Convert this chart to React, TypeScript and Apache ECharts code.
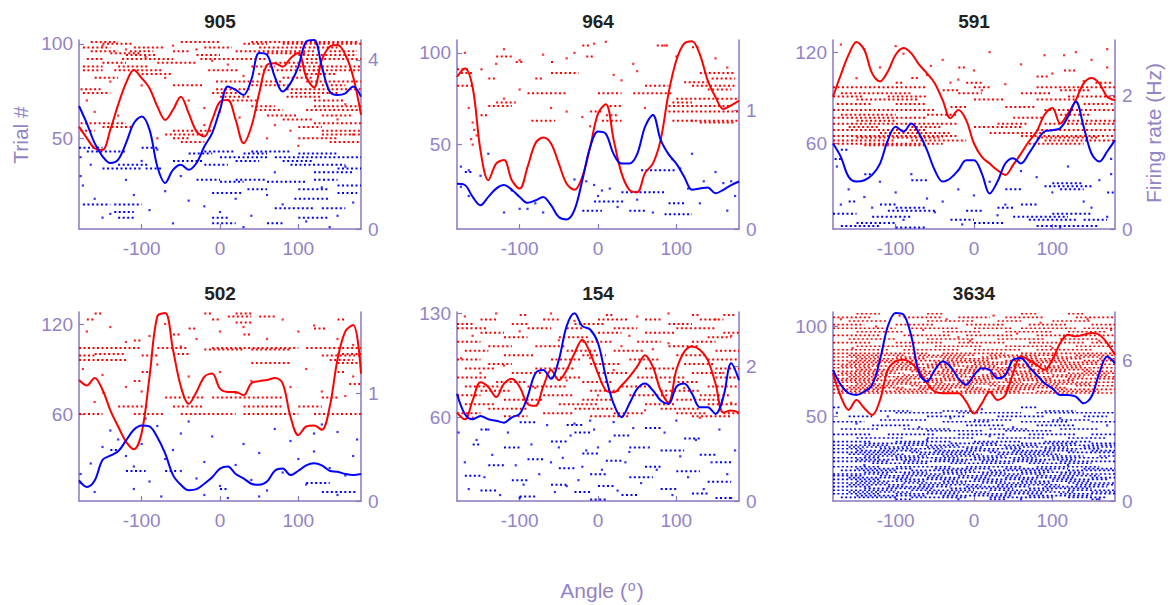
import React, { useEffect, useRef } from "react";
import * as echarts from "echarts";

// ---------- shared ----------
const ANGLES = [-180,-170,-160,-150,-140,-130,-120,-110,-100,-90,-80,-70,-60,-50,-40,-30,-20,-10,0,10,20,30,40,50,60,70,80,90,100,110,120,130,140,150,160,170,180];
const X_TICKS = [-100, 0, 100];
const TITLES = ["905", "964", "591", "502", "154", "3634"];
const Y_LIMS = [[2, 102], [4, 107], [4, 128], [2, 128], [4, 131], [3, 108]];
const Y_TICKS = [[50, 100], [50, 100], [60, 120], [60, 120], [60, 130], [50, 100]];
const R_MAX = [4.47, 1.59, 2.83, 1.75, 2.8, 8.07];
const R_TICKS = [[0, 4], [0, 1], [0, 2], [0, 1], [0, 2], [0, 6]];

// ---------- tuning curves (Hz), one value per ANGLES entry ----------
const RATE_905_RED = [2.42,2.15,1.91,1.87,2.35,2.94,3.45,3.76,3.57,3.33,2.90,2.58,2.82,3.13,2.74,2.31,2.19,2.58,3.01,3.05,2.58,2.03,2.42,3.21,3.88,3.92,3.84,4.04,4.16,3.60,3.35,4.00,4.31,4.35,4.12,3.60,2.70];
const RATE_905_BLUE = [2.91,2.50,2.03,1.72,1.56,1.64,2.03,2.50,2.66,2.35,1.48,1.09,1.40,1.52,1.40,1.56,1.95,2.27,2.82,3.37,3.29,3.17,3.53,4.16,4.12,3.60,3.25,3.45,3.84,4.43,4.47,3.84,3.25,3.17,3.21,3.37,3.13];
const RATE_964_RED = [1.28,1.35,1.19,0.66,0.41,0.55,0.58,0.41,0.34,0.52,0.72,0.77,0.72,0.55,0.38,0.33,0.44,0.69,0.97,1.05,0.75,0.47,0.33,0.31,0.47,0.55,0.75,1.14,1.42,1.56,1.58,1.47,1.25,1.11,1.01,1.04,1.08];
const RATE_964_BLUE = [0.38,0.37,0.27,0.20,0.27,0.34,0.37,0.33,0.27,0.22,0.24,0.27,0.20,0.10,0.08,0.16,0.41,0.69,0.82,0.80,0.63,0.55,0.55,0.63,0.86,0.96,0.75,0.63,0.55,0.44,0.33,0.34,0.35,0.30,0.33,0.37,0.40];
const RATE_591_RED = [1.98,2.31,2.61,2.80,2.68,2.33,2.21,2.36,2.61,2.71,2.63,2.46,2.33,2.18,1.93,1.66,1.78,1.63,1.28,1.08,0.98,0.88,0.81,0.96,1.13,1.31,1.46,1.71,1.81,1.58,1.73,1.93,2.18,2.26,2.18,1.98,1.93];
const RATE_591_BLUE = [1.28,1.08,0.78,0.71,0.73,0.81,0.98,1.33,1.53,1.46,1.58,1.43,1.18,0.88,0.71,0.76,0.88,1.03,1.03,0.83,0.53,0.71,0.98,1.06,0.98,1.13,1.31,1.46,1.48,1.51,1.68,1.91,1.53,1.13,1.01,1.16,1.33];
const RATE_502_RED = [1.12,1.07,1.14,1.03,0.84,0.69,0.55,0.48,0.63,1.15,1.71,1.74,1.40,1.06,0.90,1.01,1.15,1.18,1.04,1.01,1.01,0.98,1.09,1.11,1.12,1.14,1.09,0.78,0.61,0.69,0.70,0.66,0.87,1.31,1.57,1.63,1.18];
const RATE_502_BLUE = [0.19,0.13,0.19,0.38,0.42,0.46,0.56,0.66,0.70,0.69,0.59,0.44,0.24,0.15,0.10,0.11,0.16,0.22,0.30,0.32,0.25,0.21,0.16,0.15,0.18,0.28,0.30,0.24,0.28,0.33,0.35,0.33,0.28,0.27,0.25,0.24,0.25];
const RATE_154_RED = [1.31,1.21,1.49,1.76,1.69,1.54,1.74,1.81,1.69,1.44,1.41,1.69,1.94,1.79,1.94,2.19,2.39,2.19,1.89,1.64,1.61,1.71,1.84,1.99,2.16,1.99,1.64,1.46,1.94,2.21,2.29,2.24,2.09,1.74,1.31,1.34,1.31];
const RATE_154_BLUE = [1.59,1.29,1.21,1.26,1.21,1.19,1.16,1.24,1.29,1.54,1.89,1.94,1.81,2.09,2.59,2.78,2.59,2.54,2.34,1.84,1.44,1.24,1.44,1.66,1.74,1.64,1.49,1.44,1.69,1.74,1.59,1.39,1.39,1.29,1.54,2.04,1.79];
const RATE_3634_RED = [5.46,4.46,3.89,4.31,3.96,3.67,4.31,5.60,5.96,6.03,5.88,5.53,5.03,4.67,4.60,4.60,4.60,4.24,3.74,4.17,4.67,4.31,4.53,5.46,6.17,6.03,5.81,5.60,6.03,6.74,7.10,7.03,7.10,7.17,7.10,6.74,6.24];
const RATE_3634_BLUE = [5.60,4.96,4.60,4.53,4.67,4.96,6.03,7.46,8.03,7.96,7.03,5.46,5.10,5.60,5.96,5.74,5.24,4.96,5.38,5.67,5.60,5.24,5.38,6.03,6.10,5.74,5.38,5.03,4.81,4.53,4.53,4.46,4.17,4.46,5.46,6.17,5.88];

// ---------- rasters: runs of spikes [trial, fromAngle, toAngle] and single spikes [angle, trial] ----------
const RUNS_905_RED = [[101,-165,-130],[101,-50,0],[101,40,175],[100,-150,-110],[100,30,60],[100,80,180],[98,-175,-140],[98,-110,-70],[98,-20,15],[98,50,150],[96,-165,-130],[96,-115,-85],[96,-60,-40],[96,20,120],[96,140,175],[95,-140,-100],[95,60,110],[94,-120,-80],[94,-30,0],[94,100,175],[92,-170,-150],[92,-125,-60],[92,-25,60],[92,110,180],[90,-150,-120],[90,-80,-30],[90,70,130],[88,-175,-150],[88,-130,-90],[88,40,70],[88,90,180],[86,-175,-150],[86,-135,-75],[86,-15,25],[86,55,180],[84,-100,-60],[84,110,150],[82,-160,-130],[82,80,120],[80,-5,80],[80,110,180],[78,-60,-20],[78,40,90],[78,130,160],[76,-178,-150],[76,-5,40],[76,85,180],[74,-175,-140],[74,-10,25],[74,90,150],[72,0,40],[72,85,130],[70,10,50],[70,120,160],[67,40,70],[67,120,180],[65,45,80],[65,110,180],[62,60,100],[62,130,170],[60,80,120],[58,-178,-120],[58,120,180],[56,-150,-110],[56,100,130],[54,-178,-160],[54,-60,-10],[54,130,180],[52,-70,-20],[52,130,180],[50,-60,-40],[50,100,150],[48,-50,-20],[48,140,180]];
const DOTS_905_RED = [[-150,99],[-120,97],[-95,93],[-60,99],[-30,97],[-10,91],[10,89],[30,83],[50,84],[-140,80],[-100,78],[-70,82],[-40,70],[-20,66],[0,64],[25,61],[70,57],[90,54],[-130,62],[-160,64],[150,60],[160,68],[100,46],[-80,50],[-20,57],[60,50],[170,52],[140,74],[-170,70],[120,86]];
const RUNS_905_BLUE = [[45,-180,-150],[45,-100,-80],[43,-170,-120],[43,-20,20],[43,40,90],[42,-40,-10],[42,30,60],[42,100,150],[40,0,60],[40,70,180],[38,-60,-20],[38,20,50],[38,80,120],[36,-130,-90],[36,-20,10],[36,90,160],[34,-150,-100],[34,-95,-75],[34,150,180],[32,120,170],[28,-30,0],[28,20,60],[28,120,150],[27,0,30],[27,60,110],[25,150,180],[23,35,60],[23,100,140],[21,-10,30],[21,150,175],[18,95,140],[15,-175,-140],[15,-135,-100],[13,70,120],[13,130,160],[11,-135,-110],[8,-130,-110],[8,-10,10],[8,100,140],[5,-10,20],[5,60,80]];
const DOTS_905_BLUE = [[-178,40],[-178,30],[-175,25],[-160,18],[-140,10],[-120,28],[-110,20],[-90,12],[-70,22],[-60,5],[-40,17],[-20,14],[0,11],[20,18],[40,9],[60,20],[80,15],[110,6],[130,24],[150,9],[170,16],[-165,36],[-100,38],[-50,30],[70,32],[160,35],[-150,8],[30,3],[140,3],[-80,44]];

const RUNS_964_RED = [[104,-20,-10],[104,75,90],[103,120,130],[98,-130,-110],[98,-15,-5],[95,-105,-95],[95,-60,-55],[91,-180,-165],[91,-150,-145],[89,-175,-160],[89,-60,-25],[89,130,175],[86,-140,-130],[86,-80,-70],[86,145,175],[84,110,140],[82,-180,-160],[82,60,90],[82,120,175],[80,140,170],[78,-90,-40],[78,0,30],[78,45,95],[75,100,180],[73,-130,-105],[73,95,120],[71,-140,-110],[71,15,30],[71,90,170],[68,-10,5],[68,90,180],[66,-150,-140],[66,10,25],[63,-85,-55],[63,5,30],[63,95,180],[62,130,175]];
const DOTS_964_RED = [[-170,100],[-120,102],[-100,96],[-70,99],[-40,97],[-30,100],[-5,105],[10,106],[45,94],[85,104],[100,98],[150,97],[165,92],[-165,70],[-160,62],[-155,55],[-160,50],[-120,75],[-60,70],[-40,68],[-20,65],[-10,60],[20,88],[60,70],[70,66],[120,63],[-100,80],[-130,94],[30,85],[50,90],[-158,58],[-162,53]];
const RUNS_964_BLUE = [[36,55,100],[35,-170,-160],[24,30,85],[19,-5,35],[18,90,110],[14,-20,5],[14,40,60],[12,85,120]];
const DOTS_964_BLUE = [[-175,38],[-165,36],[-150,33],[-140,45],[-175,27],[-165,22],[-110,25],[-90,15],[-80,18],[-70,13],[-30,31],[-15,30],[-5,28],[5,25],[0,22],[15,26],[25,16],[50,20],[70,13],[95,42],[105,37],[115,26],[135,30],[150,35],[160,29],[170,30],[175,22],[165,14],[130,18],[120,45],[-120,13],[-100,15]];

const RUNS_591_RED = [[110,-20,-10],[108,115,130],[104,80,95],[103,-80,-70],[100,-100,-90],[100,-10,10],[100,155,175],[97,-180,-60],[97,0,20],[97,80,180],[95,-40,-20],[95,110,150],[93,-170,-80],[93,-20,10],[93,60,100],[91,-180,-140],[91,-110,-60],[91,120,180],[89,-150,-70],[89,0,40],[89,80,130],[86,-175,-130],[86,-100,-60],[86,140,180],[84,-30,-10],[84,40,80],[82,-180,-50],[82,90,180],[79,-170,-100],[79,-60,-20],[79,110,150],[77,-180,-60],[77,50,90],[75,-150,-100],[75,120,180],[73,-180,-20],[73,30,70],[73,90,180],[71,-160,-120],[71,-80,-40],[71,0,60],[69,-180,-60],[69,80,180],[67,-120,-30],[67,20,90],[65,-180,-20],[65,60,180],[64,-150,-40],[64,80,160],[62,-180,-100],[62,-80,-10],[62,90,180],[60,-180,-40],[60,70,140],[59,-140,-60]];
const DOTS_591_RED = [[-170,125],[-140,122],[-120,110],[-90,119],[-60,105],[-40,115],[-20,102],[0,108],[20,120],[40,99],[60,112],[90,118],[100,106],[130,120],[150,115],[170,110],[-150,103],[-30,100],[10,95],[140,101],[-100,124],[170,122],[115,118],[-55,111]];
const RUNS_591_BLUE = [[56,-170,-160],[50,-178,-170],[40,-140,-130],[36,-80,-60],[34,100,140],[32,90,150],[30,40,60],[30,110,140],[28,170,180],[22,-160,-150],[20,-120,-100],[20,60,80],[18,-100,-60],[18,30,50],[16,-110,-50],[16,-10,10],[14,-180,-150],[14,100,150],[12,-130,-80],[12,50,120],[10,-30,0],[10,70,130],[10,140,170],[8,-150,-100],[8,0,40],[6,-170,-120],[6,80,160],[5,-100,-60]];
const DOTS_591_BLUE = [[-175,45],[-160,30],[-140,25],[-120,35],[-100,28],[-80,40],[-60,24],[-40,22],[-20,30],[0,26],[20,35],[40,20],[60,42],[80,38],[100,28],[120,45],[140,22],[160,36],[175,40],[-170,20],[-130,18],[-50,15],[30,13],[150,18],[170,12],[-90,10],[-15,7],[110,5],[175,50]];

const RUNS_502_RED = [[127,-160,-150],[127,-20,-10],[127,20,40],[125,10,40],[125,50,70],[123,-170,-160],[123,-10,0],[123,150,160],[121,20,40],[117,-40,-30],[117,120,135],[113,-60,-50],[113,30,40],[109,-110,-100],[104,-180,-100],[104,-80,-40],[104,-10,100],[104,110,180],[103,-20,30],[103,40,90],[100,-160,-120],[100,-60,-40],[100,150,180],[99,-180,-160],[99,-100,-80],[99,130,180],[96,-180,-120],[96,140,170],[94,40,90],[94,150,180],[88,-100,-90],[88,150,160],[82,-110,-100],[80,165,180],[74,-150,-145],[71,-70,-20],[71,-10,80],[71,130,150],[65,-130,-90],[65,-60,-20],[65,30,80],[65,100,130],[60,-180,-150],[60,-110,-70],[60,-50,20],[60,30,100],[60,120,180]];
const DOTS_502_RED = [[-170,115],[-140,118],[-120,108],[-90,112],[-70,120],[-50,105],[-30,110],[0,115],[30,118],[60,110],[80,123],[100,115],[120,119],[150,110],[170,106],[-175,90],[-150,86],[-120,78],[-80,93],[-40,85],[0,88],[40,82],[90,78],[130,75],[170,85],[160,72],[-160,68],[-100,75],[20,74],[110,90]];
const RUNS_502_BLUE = [[22,-120,-95],[22,-70,-55],[10,0,10],[8,130,175],[36,-140,-130],[14,110,140]];
const DOTS_502_BLUE = [[-178,20],[-178,14],[-165,27],[-150,38],[-140,49],[-130,43],[-120,32],[-110,25],[-100,40],[-95,57],[-90,15],[-80,52],[-75,5],[-70,30],[-60,36],[-50,22],[-40,55],[-30,17],[-20,28],[-10,45],[0,12],[10,4],[20,26],[30,40],[40,16],[50,34],[60,9],[70,50],[80,21],[90,42],[100,30],[110,13],[120,35],[130,53],[140,24],[150,48],[160,19],[170,32],[175,43],[-160,8],[-110,10],[-20,6],[50,5],[150,6],[-50,47],[120,47]];

const RUNS_154_RED = [[129,-100,-90],[129,10,20],[129,120,130],[129,160,175],[126,-150,-130],[126,-70,-50],[126,0,40],[126,60,80],[126,130,160],[123,-180,-160],[123,-110,-90],[123,-30,10],[123,90,120],[120,-180,-140],[120,-90,-60],[120,-40,-20],[120,20,50],[120,100,150],[117,-150,-120],[117,0,30],[117,60,100],[117,160,180],[114,-120,-90],[114,-50,-10],[114,140,170],[111,-180,-150],[111,-20,20],[111,50,80],[111,120,150],[108,-140,-110],[108,-80,-40],[108,90,130],[105,-170,-140],[105,-40,0],[105,20,60],[105,150,180],[102,-120,-80],[102,-20,10],[102,100,140],[99,-180,-150],[99,-60,-20],[99,40,80],[99,140,180],[96,-140,-110],[96,-10,30],[96,110,150],[93,-170,-130],[93,-80,-30],[93,60,100],[93,150,180],[90,-110,-70],[90,0,40],[90,120,160],[87,-180,-140],[87,-60,-20],[87,50,110],[87,150,180],[84,-130,-90],[84,-20,20],[84,90,130],[81,-170,-120],[81,-90,-40],[81,30,70],[81,140,180],[78,-150,-110],[78,-10,30],[78,80,130],[75,-180,-150],[75,-70,-30],[75,40,90],[75,130,170],[72,-120,-70],[72,-20,20],[72,100,160],[69,-170,-130],[69,-50,0],[69,60,100],[69,140,180],[66,-140,-90],[66,-30,20],[66,80,130],[63,-180,-150],[63,-70,-30],[63,20,60],[63,100,140],[63,160,180],[61,-120,-90],[61,-10,40],[61,120,170]];
const DOTS_154_RED = [[-170,128],[-130,130],[-60,130],[-30,125],[50,128],[90,130],[150,126],[-175,100],[-160,115],[-100,118],[-50,112],[30,108],[70,106],[170,115],[-150,90],[-40,85],[20,92],[110,80],[-90,70],[0,75],[60,65],[170,70],[-160,60],[130,60],[-10,100],[90,110],[-120,95],[40,115],[160,90],[-80,80]];
const RUNS_154_BLUE = [[57,-100,-80],[55,-40,-20],[53,60,80],[52,-150,-140],[50,-30,-10],[48,20,40],[46,110,130],[44,-60,-40],[42,-160,-150],[40,-120,-100],[40,40,60],[38,80,110],[36,-20,0],[35,130,150],[32,-90,-70],[31,10,30],[30,150,170],[28,-140,-120],[27,60,80],[26,-50,-30],[24,100,130],[22,-10,10],[21,-170,-150],[20,40,70],[18,-110,-90],[17,140,170],[15,-60,-40],[14,0,20],[12,80,100],[11,-150,-130],[10,-30,-10],[9,120,140],[8,30,50],[7,-100,-80],[6,150,170],[5,-10,10]];
const DOTS_154_BLUE = [[-178,50],[-170,30],[-165,12],[-155,45],[-145,20],[-135,35],[-125,8],[-115,50],[-105,28],[-95,15],[-85,42],[-75,22],[-65,55],[-55,10],[-45,33],[-35,48],[-25,18],[-15,38],[-5,52],[5,25],[15,44],[25,11],[35,30],[45,53],[55,16],[65,40],[75,25],[85,50],[95,8],[105,34],[115,20],[125,45],[135,12],[145,30],[155,52],[165,22],[175,38],[-60,30],[-30,56],[-20,27],[-40,14],[-50,40],[170,6],[-100,6],[0,40],[40,37],[-140,52],[100,58],[-10,58],[20,57]];

const RUNS_3634_RED = [[107,-150,-120],[107,-60,-40],[107,60,80],[107,120,140],[105,-180,-130],[105,-90,-40],[105,-20,20],[105,40,90],[105,130,180],[103,-160,-110],[103,-60,0],[103,30,60],[103,100,150],[101,-180,-140],[101,-100,-50],[101,-10,40],[101,70,120],[101,150,180],[99,-180,-100],[99,-80,-20],[99,0,50],[99,60,130],[99,140,180],[97,-150,-90],[97,-40,10],[97,40,100],[97,120,170],[95,-180,-120],[95,-90,-30],[95,-10,50],[95,80,180],[93,-160,-100],[93,-60,0],[93,30,90],[93,110,160],[91,-180,-130],[91,-100,-40],[91,-20,40],[91,70,140],[91,150,180],[89,-150,-80],[89,-50,10],[89,40,100],[89,130,180],[87,-180,-110],[87,-90,-20],[87,0,60],[87,80,150],[85,-180,-60],[85,-40,40],[85,60,180],[84,-160,-90],[84,-70,0],[84,20,110],[84,130,180],[83,-180,-120],[83,-100,-10],[83,10,80],[83,100,170],[82,-150,-60],[82,-40,30],[82,50,140],[82,160,180],[81,-180,-100],[81,-80,20],[81,40,120],[81,140,180],[80,-160,-70],[80,-50,50],[80,70,160],[79,-180,-120],[79,-100,-20],[79,0,90],[79,110,180],[78,-170,-80],[78,-60,30],[78,50,140],[77,-180,-130],[77,-110,-30],[77,-10,70],[77,90,180],[76,-150,-60],[76,-40,50],[76,70,150],[75,-180,-100],[75,-80,10],[75,30,120],[75,140,180],[74,-170,-90],[74,-70,0],[74,20,100],[74,120,180],[73,-180,-110],[73,-90,-10],[73,10,80],[73,100,170],[72,-160,-60],[72,-40,40],[72,60,140],[72,160,180],[71,-180,-120],[71,-100,-20],[71,0,100],[71,120,180],[70,-170,-80],[70,-60,20],[70,40,130],[69,-180,-130],[69,-110,-40],[69,-20,60],[69,80,180],[68,-150,-70],[68,-50,30],[68,50,150],[67,-180,-100],[67,-80,0],[67,20,110],[67,130,180],[66,-160,-90],[66,-70,10],[66,30,120],[65,-180,-120],[65,-100,-30],[65,-10,80],[65,100,180],[64,-170,-60],[64,-40,60],[64,80,160],[63,-180,180]];
const DOTS_3634_RED = [[-170,104],[-125,100],[-95,106],[-65,98],[-35,104],[-5,92],[25,106],[55,96],[85,102],[115,94],[145,104],[175,98],[-155,88],[-20,94],[100,88],[160,92]];
const RUNS_3634_BLUE = [[55,-180,-170],[55,60,80],[53,-120,-80],[53,-40,0],[53,90,130],[52,-100,-40],[52,-20,60],[52,80,180],[50,-160,-130],[50,-60,-10],[50,30,90],[50,140,170],[48,-120,-60],[48,0,50],[48,100,150],[47,-180,-140],[47,-40,20],[47,60,120],[47,150,180],[45,-130,-80],[45,-10,40],[45,80,130],[43,-170,-120],[43,-90,-30],[43,20,70],[43,110,160],[42,-60,10],[42,40,100],[40,-180,-130],[40,-110,-50],[40,-20,40],[40,70,130],[40,150,180],[38,-150,-90],[38,-60,0],[38,30,90],[38,120,170],[36,-180,-130],[36,-100,-30],[36,0,60],[36,90,150],[35,-140,-60],[35,-30,30],[35,60,130],[35,150,180],[34,-180,-110],[34,-90,-20],[34,10,80],[34,100,180],[33,-160,-80],[33,-60,10],[33,40,120],[33,140,180],[32,-180,-140],[32,-120,-40],[32,-10,60],[32,90,160],[31,-150,-70],[31,-50,30],[31,50,130],[31,150,180],[30,-180,-100],[30,-80,0],[30,20,100],[30,120,180],[29,-160,-90],[29,-70,10],[29,30,110],[28,-140,-60],[28,-40,40],[28,60,140],[28,160,180],[27,-180,-120],[27,-100,-20],[27,0,80],[27,100,170],[26,-150,-70],[26,-50,30],[26,50,130],[25,-180,-110],[25,-90,-10],[25,10,90],[25,110,180],[24,-130,-60],[24,-30,50],[24,70,150],[22,-180,-120],[22,-100,-30],[22,-10,60],[22,80,160],[21,-150,-80],[21,-50,20],[21,40,120],[21,140,180],[20,-170,-100],[20,-80,0],[20,20,100],[20,120,180],[19,-140,-60],[19,-40,40],[19,60,140],[18,-180,-110],[18,-90,-10],[18,10,90],[18,110,180],[17,-180,-140],[17,-120,-40],[17,-20,60],[17,80,160],[16,-160,-80],[16,-60,20],[16,40,130],[16,150,180],[15,-180,-120],[15,-100,-20],[15,0,80],[15,100,170],[14,-150,-60],[14,-40,40],[14,60,150],[13,-180,-110],[13,-90,-10],[13,10,100],[13,120,180],[12,-160,-90],[12,-70,10],[12,30,110],[12,130,180],[11,-180,-130],[11,-110,-30],[11,-10,70],[11,90,170],[10,-140,-50],[10,-30,50],[10,70,150],[9,-180,-100],[9,-80,0],[9,20,100],[9,120,180],[8,-160,-80],[8,-60,20],[8,40,130],[8,150,180],[7,-180,-120],[7,-100,-20],[7,0,90],[7,110,180],[6,-150,-60],[6,-40,50],[6,70,150],[5,-170,-100],[5,-80,-10],[5,20,100],[5,120,170],[4,-100,-80],[4,20,40],[4,150,160]];
const DOTS_3634_BLUE = [[-175,52],[-150,46],[-110,50],[-70,44],[-30,49],[10,54],[50,44],[110,49],[170,45],[-140,23],[-60,37],[20,39],[120,23],[160,4],[-20,4],[60,4]];

const PANEL_DATA = [
  { red: RATE_905_RED, blue: RATE_905_BLUE, runsR: RUNS_905_RED, dotsR: DOTS_905_RED, runsB: RUNS_905_BLUE, dotsB: DOTS_905_BLUE },
  { red: RATE_964_RED, blue: RATE_964_BLUE, runsR: RUNS_964_RED, dotsR: DOTS_964_RED, runsB: RUNS_964_BLUE, dotsB: DOTS_964_BLUE },
  { red: RATE_591_RED, blue: RATE_591_BLUE, runsR: RUNS_591_RED, dotsR: DOTS_591_RED, runsB: RUNS_591_BLUE, dotsB: DOTS_591_BLUE },
  { red: RATE_502_RED, blue: RATE_502_BLUE, runsR: RUNS_502_RED, dotsR: DOTS_502_RED, runsB: RUNS_502_BLUE, dotsB: DOTS_502_BLUE },
  { red: RATE_154_RED, blue: RATE_154_BLUE, runsR: RUNS_154_RED, dotsR: DOTS_154_RED, runsB: RUNS_154_BLUE, dotsB: DOTS_154_BLUE },
  { red: RATE_3634_RED, blue: RATE_3634_BLUE, runsR: RUNS_3634_RED, dotsR: DOTS_3634_RED, runsB: RUNS_3634_BLUE, dotsB: DOTS_3634_BLUE },
];

// ---------- styling / layout ----------
const FONT = "'Liberation Sans', Arial, Helvetica, sans-serif";
const AXIS_COLOR = "#8a78c0";
const TEXT_COLOR = "#9383c7";
const RED = "#ff0000";
const BLUE = "#0000ff";
const COL_LEFT = [79, 457, 833];
const ROW_TOP = [40, 312];
const GRID_W = 282;
const GRID_H = 189;
const RUN_WIDTH = [2, 2, 2, 2, 2, 1.6];
const RUN_DASH = [[2, 2.5], [2, 2.5], [2, 2.5], [2, 2.5], [2, 2.5], [2, 2.4]];

function buildOption() {
  const grid: any[] = [];
  const xAxis: any[] = [];
  const yAxis: any[] = [];
  const series: any[] = [];
  const graphic: any[] = [];

  PANEL_DATA.forEach((p, i) => {
    const col = i % 3;
    const row = Math.floor(i / 3);
    const left = COL_LEFT[col];
    const top = ROW_TOP[row];
    grid.push({ left, top, width: GRID_W, height: GRID_H, containLabel: false });

    const axisLine = { show: true, onZero: false, lineStyle: { color: AXIS_COLOR, width: 1.5 } };
    const tickStyle = { color: AXIS_COLOR, width: 1.2 };
    const labelBase = { color: TEXT_COLOR, fontSize: 19, fontFamily: FONT };

    xAxis.push({
      gridIndex: i, type: "value", min: -180, max: 180,
      axisLine,
      axisTick: { show: true, inside: true, length: 5, customValues: X_TICKS, lineStyle: tickStyle },
      axisLabel: { ...labelBase, margin: 10, customValues: X_TICKS },
      splitLine: { show: false },
    });
    yAxis.push({
      gridIndex: i, type: "value", position: "left", min: Y_LIMS[i][0], max: Y_LIMS[i][1],
      axisLine,
      axisTick: { show: true, inside: true, length: 5, customValues: Y_TICKS[i], lineStyle: tickStyle },
      axisLabel: { ...labelBase, margin: 6, customValues: Y_TICKS[i] },
      splitLine: { show: false },
    });
    yAxis.push({
      gridIndex: i, type: "value", position: "right", min: 0, max: R_MAX[i],
      axisLine,
      axisTick: { show: true, inside: true, length: 5, customValues: R_TICKS[i], lineStyle: tickStyle },
      axisLabel: { ...labelBase, margin: 7, customValues: R_TICKS[i] },
      splitLine: { show: false },
    });

    const runSeries = (runs: number[][], color: string) => ({
      type: "custom",
      xAxisIndex: i,
      yAxisIndex: 2 * i,
      coordinateSystem: "cartesian2d",
      silent: true,
      encode: { x: [1, 2], y: 0 },
      data: runs,
      z: 2,
      renderItem: (_params: any, api: any) => {
        const t = api.value(0);
        const a = api.coord([api.value(1), t]);
        const b = api.coord([api.value(2), t]);
        return {
          type: "line",
          shape: { x1: a[0], y1: a[1], x2: b[0], y2: b[1] },
          style: { stroke: color, lineWidth: RUN_WIDTH[i], lineDash: RUN_DASH[i], lineCap: "butt" },
        };
      },
    });
    const dotSeries = (dots: number[][], color: string) => ({
      type: "scatter",
      xAxisIndex: i,
      yAxisIndex: 2 * i,
      data: dots,
      symbol: "rect",
      symbolSize: 2.2,
      itemStyle: { color },
      silent: true,
      z: 2,
    });
    const curve = (vals: number[], color: string) => ({
      type: "line",
      xAxisIndex: i,
      yAxisIndex: 2 * i + 1,
      data: ANGLES.map((a, k) => [a, vals[k]]),
      showSymbol: false,
      smooth: 0.35,
      lineStyle: { color, width: 2 },
      silent: true,
      z: 5,
    });

    series.push(runSeries(p.runsR, RED), dotSeries(p.dotsR, RED));
    series.push(runSeries(p.runsB, BLUE), dotSeries(p.dotsB, BLUE));
    series.push(curve(p.red, RED), curve(p.blue, BLUE));

    graphic.push({
      type: "text",
      x: left + GRID_W / 2,
      y: top - 19,
      style: { text: TITLES[i], font: `bold 19px ${FONT}`, fill: "#222222", align: "center", verticalAlign: "middle" },
    });
  });

  graphic.push({
    type: "text", x: 20, y: 135, rotation: Math.PI / 2,
    style: { text: "Trial #", font: `21px ${FONT}`, fill: TEXT_COLOR, align: "center", verticalAlign: "middle" },
  });
  graphic.push({
    type: "text", x: 1153, y: 133, rotation: Math.PI / 2,
    style: { text: "Firing rate (Hz)", font: `21px ${FONT}`, fill: TEXT_COLOR, align: "center", verticalAlign: "middle" },
  });
  graphic.push({
    type: "text", x: 602, y: 590,
    style: {
      text: "{a|Angle (}{s|o}{a|)}",
      align: "center", verticalAlign: "middle",
      rich: {
        a: { fontSize: 21, fontFamily: FONT, fill: TEXT_COLOR, color: TEXT_COLOR },
        s: { fontSize: 14, fontFamily: FONT, fill: TEXT_COLOR, color: TEXT_COLOR, verticalAlign: "top", padding: [0, 1, 8, 1] },
      },
    },
  });

  return { animation: false, backgroundColor: "#ffffff", grid, xAxis, yAxis, series, graphic };
}

export default function App() {
  const ref = useRef<HTMLDivElement>(null);
  useEffect(() => {
    if (!ref.current) return;
    const chart = echarts.init(ref.current, undefined, { renderer: "svg" });
    chart.setOption(buildOption() as any);
    return () => chart.dispose();
  }, []);
  return <div ref={ref} style={{ position: "absolute", left: 0, top: 0, width: 1170, height: 605 }} />;
}
